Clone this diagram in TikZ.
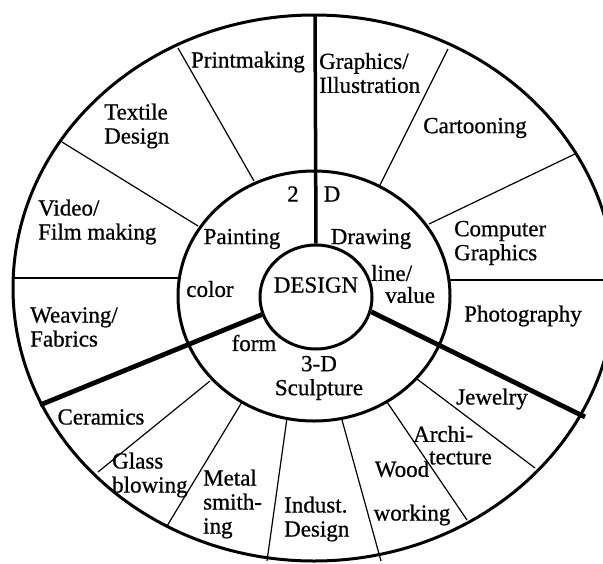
\documentclass[tikz,border=0pt]{standalone}
\usepackage{fontspec}
\setmainfont{Liberation Serif}[FakeBold=0.7]
\usetikzlibrary{shapes.geometric}

\tikzset{
  ring/.style={line width=3pt},
  divider/.style={line width=4.8pt},
  spoke/.style={line width=1.2pt},
  hub/.style={draw, ellipse, line width=3pt, minimum width=112pt, minimum height=104pt, inner sep=0pt},
  txt/.style={font=\fontsize{23}{24}\selectfont, inner sep=0pt, align=left}
}

\begin{document}
\begin{tikzpicture}[x=1pt,y=-1pt]
    \useasboundingbox (0,0) rectangle (603,563);
    \clip (0,0) rectangle (603,563);

    % rings
    \draw[ring] (314,288) ellipse [x radius=301pt, y radius=273pt];
    \draw[ring] (314,296) ellipse [x radius=136pt, y radius=125pt];
    \node[hub] (hub) at (316,297) {};

    % thin spokes between the two rings
    \foreach \xa/\ya/\xb/\yb in {178/48/254/181, 62/142/198/226, 98/472/210/381,
        167/526/242/402, 267/561/287/418, 381/561/342/420, 467/520/387/402,
        535/468/417/379, 577/153/429/224, 448/49/380/185} {
        \draw[spoke] (\xa,\ya) -- (\xb,\yb);
    }
    \draw[line width=2.5pt] (13,278) -- (180,278);
    \draw[line width=2.5pt] (450,280) -- (603,280);

    % 2-D / 3-D dividers
    \coordinate (top) at (315,15);
    \coordinate (weave end) at (40,405);
    \coordinate (jewel end) at (585,417);
    \draw[line width=3.5pt] (top) -- (hub.north);
    \draw[divider] (weave end) -- (hub.198);
    \draw[divider] (jewel end) -- (hub.345);

    % outer ring
    \node[txt] (print) at (248,62) {Printmaking};
    \node[txt, anchor=west] (graph) at (319,73) {Graphics/\\Illustration};
    \node[txt, anchor=west] (textile) at (104,126) {Textile\\Design};
    \node[txt] (cartoon) at (475,128) {Cartooning};
    \node[txt, anchor=west] (video) at (38,222) {Video/\\Film making};
    \node[txt, anchor=west] (comp) at (454,243) {Computer\\Graphics};
    \node[txt, anchor=west] (weave) at (30,327) {Weaving/\\Fabrics};
    \node[txt] (photo) at (523,316) {Photography};
    \node[txt] (ceram) at (101,417) {Ceramics};
    \node[txt] (jewel) at (492,399) {Jewelry};
    \node[txt, anchor=west] (archi) at (413,434) {Archi-};
    \node[txt, anchor=west] (tect) at (429,458) {tecture};
    \node[txt, anchor=west] (glass) at (112,475) {Glass\\blowing};
    \node[txt, anchor=west] (metal) at (203,504) {Metal\\smith-\\ing};
    \node[txt, anchor=west] (indust) at (284,519) {Indust.\\Design};
    \node[txt] (wood) at (402,469) {Wood};
    \node[txt] (work) at (412,515) {working};

    % middle ring
    \node[txt] (two) at (293,194) {2};
    \node[txt] (dee) at (332,194) {D};
    \node[txt] (paint) at (242,239) {Painting};
    \node[txt] (drawing) at (371,239) {Drawing};
    \node[txt] (color) at (210,289) {color};
    \node[txt, anchor=west] (line) at (371,273) {line/};
    \node[txt, anchor=west] (value) at (385,295) {value};
    \node[txt] (form) at (254,343) {form};
    \node[txt, align=center] (sculpt) at (319,378) {3-D\\Sculpture};

    % centre
    \node[txt] (design) at (316,285) {DESIGN};
\end{tikzpicture}
\end{document}
